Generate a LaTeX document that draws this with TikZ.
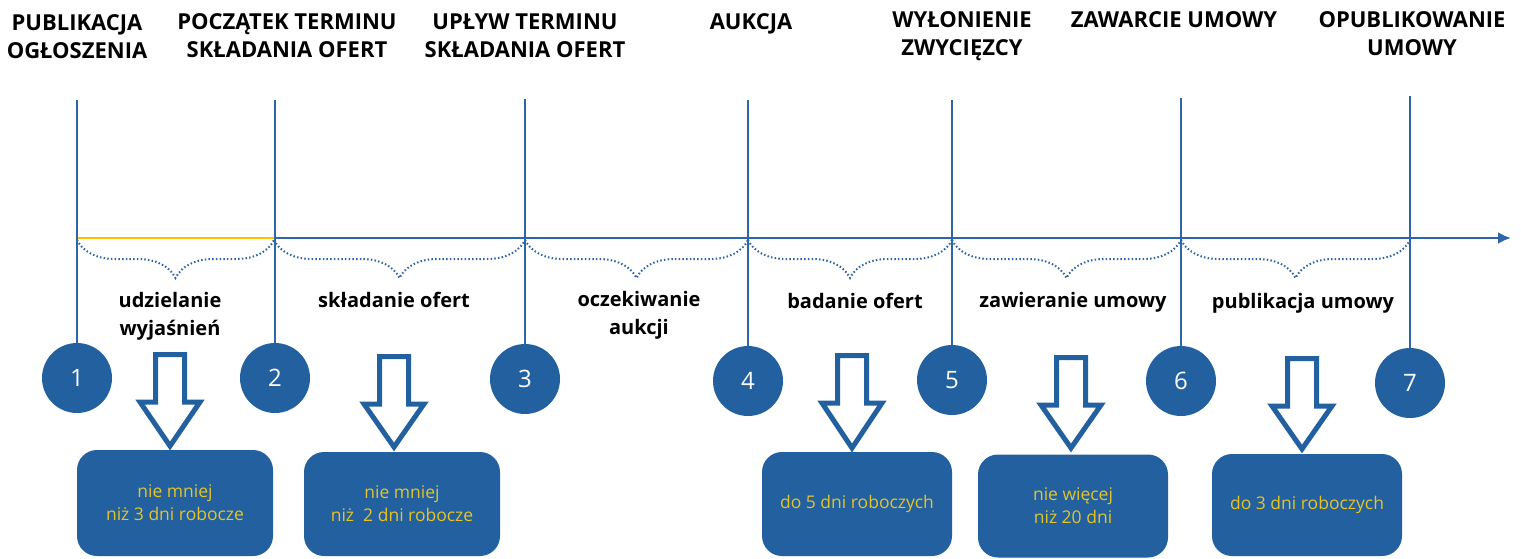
\documentclass[tikz,border=0pt]{standalone}
\usepackage{fontspec}
\setmainfont{Open Sans}
\usetikzlibrary{arrows.meta,decorations.pathreplacing}
\definecolor{tlblue}{RGB}{34,96,160}
\definecolor{tlline}{RGB}{45,102,168}
\definecolor{tlgold}{RGB}{255,192,0}
\definecolor{tltext}{RGB}{228,196,40}
\newcommand\tlarrow[3]{% center x, outer top y, outer tip y
  \draw[blockarrow] ({#1-14.5},{#2+2.5}) -- ({#1+14.5},{#2+2.5}) -- ({#1+14.5},{#2+50}) -- ({#1+30},{#2+50}) -- ({#1},{#3-4}) -- ({#1-30},{#2+50}) -- ({#1-14.5},{#2+50}) -- cycle;}
\begin{document}
\begin{tikzpicture}[x=1pt,y=-1pt,
  header/.style={align=center, font=\fontsize{22}{28}\selectfont\bfseries, text=black, inner sep=0pt, anchor=base},
  phase/.style={align=center, font=\fontsize{20}{28}\selectfont\bfseries, text=black, inner sep=0pt, anchor=base},
  num/.style={circle, fill=tlblue, text=white, minimum size=70pt, inner sep=0pt, font=\fontsize{24}{24}\selectfont},
  box/.style={rounded corners=20pt, fill=tlblue, text=tltext, align=center, inner sep=0pt, font=\fontsize{17.5}{23}\selectfont},
  vline/.style={draw=tlline, line width=2pt},
  axis/.style={draw=tlline, line width=2.5pt},
  brc/.style={draw=tlline, line width=2pt, dash pattern=on 1.5pt off 2.2pt, decorate, decoration={brace, mirror, amplitude=38pt}},
  blockarrow/.style={draw=tlblue, line width=5pt, fill=white, line join=miter},
]
\useasboundingbox (0,0) rectangle (1521,558);

% headers (base anchor = baseline of the last line)
\node[header] (h1) at (77,58) {PUBLIKACJA\\OGŁOSZENIA};
\node[header] (h2) at (287,57) {POCZĄTEK TERMINU\\SKŁADANIA OFERT};
\node[header] (h3) at (525,57) {UPŁYW TERMINU\\SKŁADANIA OFERT};
\node[header] (h4) at (751,29) {AUKCJA};
\node[header] (h5) at (962,55) {WYŁONIENIE\\ZWYCIĘZCY};
\node[header] (h6) at (1174,27) {ZAWARCIE UMOWY};
\node[header] (h7) at (1412,55) {OPUBLIKOWANIE\\UMOWY};

% axis
\coordinate (a0) at (77,238);
\coordinate (aend) at (1511,238);
\coordinate (ay) at (274,238);
\draw[axis, -{Latex[length=13pt,width=12pt]}] (a0) -- (aend);
\draw[draw=tlgold, line width=2.5pt] (a0) -- (ay);

% braces
\draw[brc] (77,240) -- (274,240);
\draw[brc] (274,240) -- (525,240);
\draw[brc] (525,240) -- (748,240);
\draw[brc] (748,240) -- (952,240);
\draw[brc] (952,240) -- (1181,240);
\draw[brc] (1181,240) -- (1410,240);

% phase labels
\node[phase] (p1) at (170,335) {udzielanie\\wyjaśnień};
\node[phase] (p2) at (394,307) {składanie ofert};
\node[phase] (p3) at (639,334) {oczekiwanie\\aukcji};
\node[phase] (p4) at (855,308) {badanie ofert};
\node[phase] (p5) at (1073,307) {zawieranie umowy};
\node[phase] (p6) at (1303,308) {publikacja umowy};

% circles
\node[num] (c1) at (77,378) {1};
\node[num] (c2) at (275,378) {2};
\node[num] (c3) at (525,379) {3};
\node[num] (c4) at (748,381) {4};
\node[num] (c5) at (952,380) {5};
\node[num] (c6) at (1181,381) {6};
\node[num] (c7) at (1410,383) {7};

% vertical lines
\coordinate (t1) at (77,100);
\coordinate (t2) at (275,100);
\coordinate (t3) at (525,99);
\coordinate (t4) at (748,100);
\coordinate (t5) at (952,100);
\coordinate (t6) at (1181,98);
\coordinate (t7) at (1410,96);
\foreach \i in {1,...,7} {\draw[vline] (t\i) -- (c\i.north);}

% block arrows
\tlarrow{170}{352}{450}
\tlarrow{394}{354}{451}
\tlarrow{852}{353}{452}
\tlarrow{1071}{355}{452}
\tlarrow{1302}{356}{453}

% boxes
\node[box, minimum width=196pt, minimum height=106pt] (b1) at (175,503) {nie mniej\\niż 3 dni robocze};
\node[box, minimum width=196pt, minimum height=104pt] (b2) at (402,504) {nie mniej\\niż\ \ 2 dni robocze};
\node[box, minimum width=190pt, minimum height=104pt] (b3) at (857,504) {do 5 dni roboczych};
\node[box, minimum width=190pt, minimum height=103pt] (b4) at (1073,506) {nie więcej\\niż 20 dni};
\node[box, minimum width=190pt, minimum height=102pt] (b5) at (1307,505) {do 3 dni roboczych};
\end{tikzpicture}
\end{document}
